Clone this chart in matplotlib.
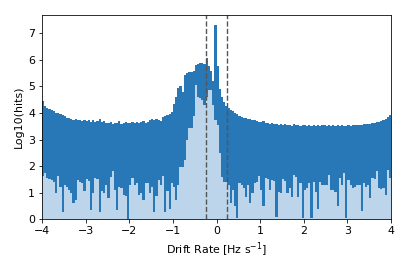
import numpy as np
import matplotlib
matplotlib.use("Agg")
import matplotlib.pyplot as plt

plt.rcParams["font.size"] = 11

# 160 drift-rate bins of 0.05 Hz/s between -4 and 4
BIN_WIDTH = 0.05
bin_centers = np.arange(-4 + BIN_WIDTH / 2, 4, BIN_WIDTH)

# log10(hits), all hits (dark)
all_hits = [
    4.45, 4.25, 4.20, 4.15, 4.12, 4.06, 4.02, 4.00, 3.98, 3.94,
    3.90, 3.82, 3.80, 3.76, 3.74, 3.76, 3.72, 3.75, 3.70, 3.72,
    3.70, 3.74, 3.68, 3.72, 3.66, 3.70, 3.76, 3.68, 3.70, 3.64,
    3.62, 3.66, 3.60, 3.64, 3.62, 3.70, 3.60, 3.64, 3.66, 3.62,
    3.64, 3.66, 3.62, 3.68, 3.64, 3.66, 3.70, 3.64, 3.68, 3.72,
    3.76, 3.74, 3.78, 3.72, 3.70, 3.86, 3.88, 3.94, 3.98, 4.04,
    4.35, 4.60, 4.95, 5.00, 4.80, 5.45, 5.52, 5.56, 5.55, 5.58,
    5.80, 5.84, 5.88, 5.90, 5.86, 6.07, 5.78, 5.60, 5.20, 7.33,
    5.76, 4.90, 4.60, 4.40, 4.25, 4.20, 4.10, 4.06, 4.00, 3.95,
    3.90, 3.86, 3.82, 3.80, 3.78, 3.76, 3.72, 3.74, 3.70, 3.68,
    3.66, 3.70, 3.62, 3.64, 3.60, 3.62, 3.58, 3.60, 3.56, 3.58,
    3.56, 3.60, 3.54, 3.56, 3.52, 3.58, 3.54, 3.56, 3.52, 3.54,
    3.54, 3.50, 3.56, 3.52, 3.54, 3.50, 3.56, 3.52, 3.55, 3.54,
    3.52, 3.56, 3.50, 3.54, 3.52, 3.55, 3.50, 3.54, 3.52, 3.53,
    3.54, 3.52, 3.56, 3.54, 3.55, 3.56, 3.54, 3.58, 3.57, 3.60,
    3.60, 3.62, 3.64, 3.66, 3.68, 3.70, 3.74, 3.78, 3.84, 3.94,
]

# log10(hits), filtered subset (light)
sub_hits = [
    1.61, 1.74, 1.55, 1.52, 1.49, 1.42, 1.00, 1.61, 1.23, 0.29,
    1.30, 1.20, 1.10, 0.98, 0.60, 0.73, 1.49, 1.40, 1.36, 1.05,
    1.50, 1.45, 0.35, 0.98, 1.55, 1.50, 0.29, 1.05, 1.00, 1.30,
    0.79, 1.60, 1.80, 1.10, 0.35, 1.23, 1.17, 0.90, 0.86, 0.00,
    1.30, 1.55, 1.30, 1.35, 0.90, 1.00, 0.73, 1.36, 1.36, 0.98,
    1.23, 0.29, 0.86, 1.49, 1.30, 1.61, 0.29, 1.05, 0.40, 1.36,
    1.23, 0.72, 1.30, 1.98, 1.98, 2.23, 2.99, 3.43, 3.45, 3.87,
    5.05, 4.60, 4.55, 4.50, 4.30, 4.60, 4.88, 4.88, 4.30, 3.75,
    3.55, 2.48, 1.60, 1.42, 1.42, 1.30, 0.60, 1.10, 0.48, 0.04,
    1.36, 1.30, 1.17, 0.85, 1.30, 0.60, 1.00, 1.36, 1.40, 1.61,
    1.10, 0.48, 1.55, 1.50, 1.10, 1.48, 1.45, 0.10, 1.04, 1.00,
    1.50, 1.45, 0.98, 1.17, 0.85, 1.67, 1.60, 0.85, 1.36, 0.05,
    1.10, 1.17, 1.36, 0.04, 1.42, 1.04, 0.40, 1.42, 1.30, 1.30,
    1.30, 1.67, 1.10, 1.10, 1.04, 0.48, 1.55, 1.30, 1.73, 0.04,
    1.48, 1.30, 1.17, 1.20, 1.30, 1.28, 0.30, 1.36, 1.23, 1.30,
    0.79, 1.55, 1.50, 1.80, 1.17, 1.15, 1.17, 0.92, 1.86, 1.55,
]

# drift-rate cut shown as dashed lines
drift_cut = [-0.25, 0.25]

fig, ax = plt.subplots(figsize=(407 / 72, 271 / 72), dpi=72)
fig.subplots_adjust(left=0.103, right=0.961, top=0.945, bottom=0.191)

ax.bar(bin_centers, all_hits, width=BIN_WIDTH, color="#2878b8", linewidth=0)
ax.bar(bin_centers, sub_hits, width=BIN_WIDTH, color="#bcd5ea", linewidth=0)

for xc in drift_cut:
    ax.axvline(xc, color="#555555", linestyle="--", linewidth=1.4)

ax.set_xlim(-4, 4)
ax.set_xticks(np.arange(-4, 5, 1))
ax.set_xlabel("Drift Rate [Hz s$^{-1}$]")
ax.set_ylabel("Log10(hits)")

fig.savefig("out.png", dpi=72)
